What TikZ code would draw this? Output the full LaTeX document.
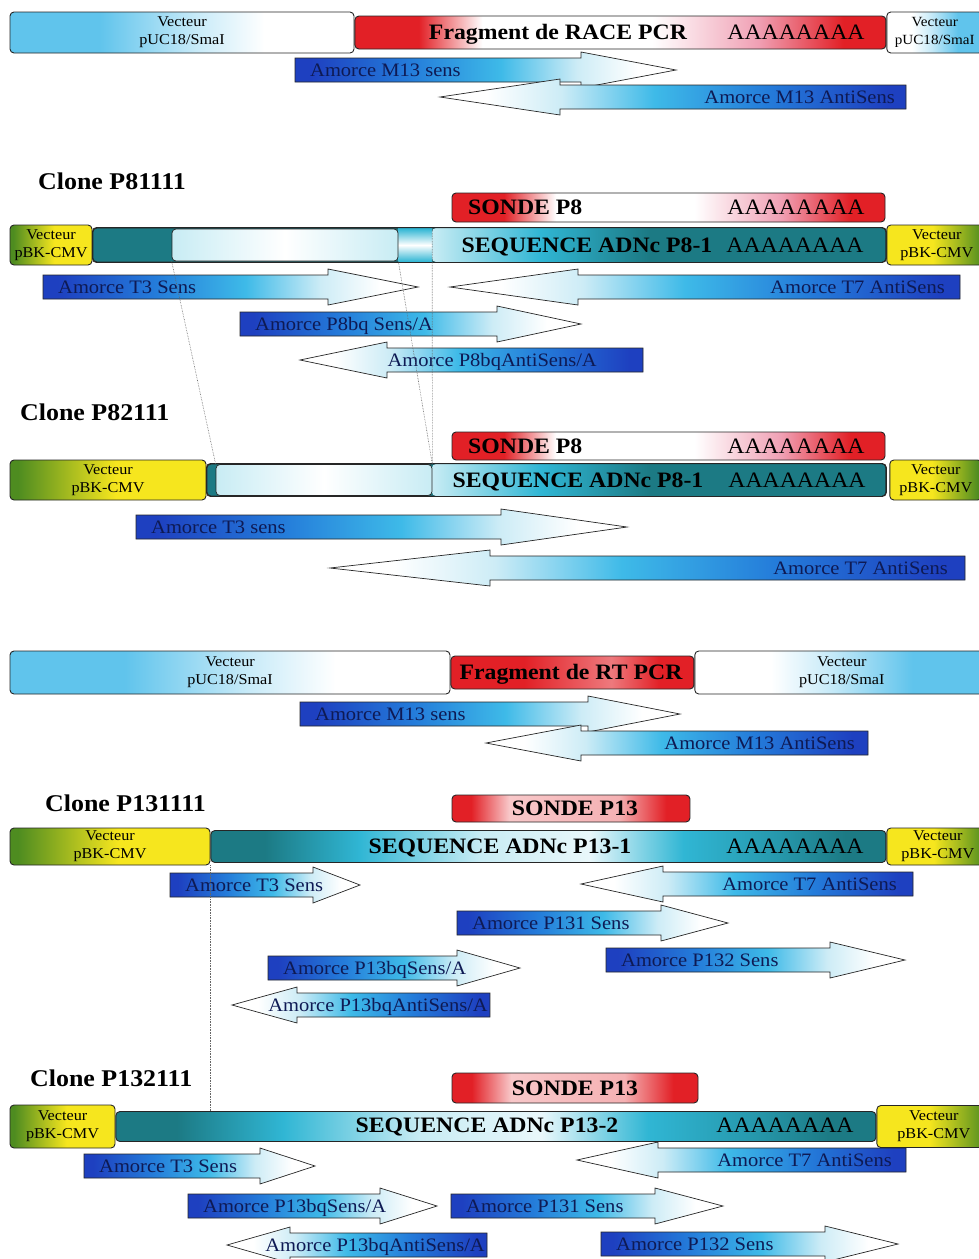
\documentclass[tikz,border=0pt]{standalone}
\usepackage{fontspec}
\setmainfont{Liberation Serif}[FakeStretch=1.08]
\usetikzlibrary{positioning}

\definecolor{skyb}{RGB}{96,196,236}
\definecolor{redf}{RGB}{226,32,38}
\definecolor{pinkf}{RGB}{240,160,180}
\definecolor{oliveg}{RGB}{78,140,32}
\definecolor{yelv}{RGB}{246,230,30}
\definecolor{tealc}{RGB}{28,122,132}
\definecolor{cyanc}{RGB}{48,182,212}
\definecolor{lcyan}{RGB}{200,236,244}
\definecolor{pdark}{RGB}{30,64,192}
\definecolor{pblue}{RGB}{36,124,218}
\definecolor{pcyan}{RGB}{62,186,232}
\definecolor{plight}{RGB}{205,236,246}
\definecolor{primink}{RGB}{14,26,84}

\pgfdeclarehorizontalshading{shPucL}{100bp}{color(0bp)=(skyb); color(25bp)=(skyb); color(38bp)=(skyb); color(52bp)=(skyb!35!white); color(62bp)=(white); color(100bp)=(white)}
\pgfdeclarehorizontalshading{shPucR}{100bp}{color(0bp)=(white); color(38bp)=(white); color(48bp)=(skyb!35!white); color(62bp)=(skyb); color(100bp)=(skyb)}
\pgfdeclarehorizontalshading{shPbkL}{100bp}{color(0bp)=(oliveg); color(27bp)=(oliveg); color(52bp)=(yelv); color(100bp)=(yelv)}
\pgfdeclarehorizontalshading{shPbkR}{100bp}{color(0bp)=(yelv); color(48bp)=(yelv); color(73bp)=(oliveg); color(100bp)=(oliveg)}
\pgfdeclarehorizontalshading{shSonde}{100bp}{color(0bp)=(redf); color(31bp)=(redf); color(37bp)=(white); color(53bp)=(white); color(63bp)=(pinkf); color(71bp)=(redf); color(100bp)=(redf)}
\pgfdeclarehorizontalshading{shSondeB}{100bp}{color(0bp)=(redf); color(29bp)=(redf); color(37bp)=(redf!25!white); color(60bp)=(redf!35!white); color(70bp)=(redf); color(100bp)=(redf)}
\pgfdeclarehorizontalshading{shRT}{100bp}{color(0bp)=(redf); color(40bp)=(redf); color(58bp)=(redf!60!white); color(68bp)=(redf); color(100bp)=(redf)}
\pgfdeclarehorizontalshading{shSeqA}{100bp}{color(0bp)=(lcyan); color(25bp)=(lcyan); color(37bp)=(cyanc); color(49bp)=(tealc); color(100bp)=(tealc)}
\pgfdeclarehorizontalshading{shSeqB}{100bp}{color(0bp)=(tealc); color(29bp)=(tealc); color(36bp)=(cyanc); color(45bp)=(lcyan); color(53bp)=(lcyan!40!white); color(60bp)=(cyanc); color(67bp)=(cyanc!50!tealc); color(72bp)=(tealc); color(100bp)=(tealc)}
\pgfdeclarehorizontalshading{shSense}{100bp}{color(0bp)=(pdark); color(27bp)=(pdark); color(40bp)=(pblue); color(52bp)=(pcyan); color(62bp)=(plight); color(70bp)=(white); color(100bp)=(white)}
\pgfdeclarehorizontalshading{shAnti}{100bp}{color(0bp)=(white); color(30bp)=(white); color(38bp)=(plight); color(48bp)=(pcyan); color(60bp)=(pblue); color(73bp)=(pdark); color(100bp)=(pdark)}

\begin{document}
\begin{tikzpicture}[x=1pt, y=-1pt, inner sep=0pt, node distance=0pt]
        \tikzstyle{bar}=[rectangle, rounded corners=4pt, draw=black!85, line width=0.9pt, inner sep=0pt]
        \tikzstyle{veclab}=[align=center, font=\fontsize{15}{18}\selectfont]
        \tikzstyle{pucl}=[bar, veclab, shade, shading=shPucL]
        \tikzstyle{pucr}=[bar, veclab, shade, shading=shPucR]
        \tikzstyle{pbkl}=[bar, veclab, shade, shading=shPbkL]
        \tikzstyle{pbkr}=[bar, veclab, shade, shading=shPbkR]
        \tikzstyle{fragbox}=[bar, shade, shading=shSonde]
        \tikzstyle{sondebox}=[bar, shade, shading=shSonde]
        \tikzstyle{sondebbox}=[bar, shade, shading=shSondeB]
        \tikzstyle{rtbox}=[bar, shade, shading=shRT]
        \tikzstyle{seqbase}=[bar, fill=tealc]
        \tikzstyle{seqmain}=[rectangle, rounded corners=4pt, shade, shading=shSeqA]
        \tikzstyle{seqfull}=[bar, shade, shading=shSeqB]
        \tikzstyle{strip}=[rectangle, top color=cyanc, bottom color=cyanc, middle color=white]
        \tikzstyle{lightbox}=[bar, line width=0.7pt, left color=lcyan, right color=lcyan, middle color=white]
        \tikzstyle{barline}=[draw=black!85, line width=0.9pt, rounded corners=4pt]
        \tikzstyle{clonelab}=[anchor=west, font=\fontsize{24}{26}\selectfont\bfseries, text height=16pt, text depth=0pt]
        \tikzstyle{seqlab}=[font=\fontsize{22}{24}\selectfont\bfseries, text height=14.5pt, text depth=0pt]
        \tikzstyle{polyA}=[font=\fontsize{22}{24}\selectfont, text height=14.5pt, text depth=0pt]
        \tikzstyle{primertext}=[text=primink, font=\fontsize{19}{21}\selectfont, text height=12.5pt, text depth=0pt]
        \tikzstyle{senseprimer}=[draw=black!85, line width=0.7pt, shading=shSense]
        \tikzstyle{antiprimer}=[draw=black!85, line width=0.7pt, shading=shAnti]
        \tikzstyle{guide}=[draw=black!60, densely dotted, line width=0.6pt]

        \path[use as bounding box, fill=white] (0,0) rectangle (978,1259);

        % RACE PCR fragment
        \node[pucl, minimum width=344pt, minimum height=41pt] (pucA) at (182,32.5) {Vecteur\\pUC18/SmaI};
        \node[fragbox, minimum width=531pt, minimum height=33pt, right=of pucA] (race) {};
        \node[pucr, minimum width=96pt, minimum height=41pt, right=of race, font=\fontsize{14}{18}\selectfont] (pucB) {Vecteur\\pUC18/SmaI};
        \node[seqlab] (raceT) at (558,32) {Fragment de RACE PCR};
        \node[polyA] (raceP) at (796,32) {AAAAAAAA};

        % Clone P81111
        \node[clonelab] (cl1) at (38,181) {Clone P81111};
        \node[sondebox, minimum width=433pt, minimum height=29pt] (sonde1) at (668.5,207.5) {};
        \node[seqlab, anchor=west] (sonde1T) at (468,207.5) {SONDE P8};
        \node[polyA] (sonde1P) at (796,207.5) {AAAAAAAA};
        \node[pbkl, minimum width=82pt, minimum height=40pt] (pbk1) at (51,245) {Vecteur\\pBK-CMV};
        \node[seqbase, minimum width=793pt, minimum height=34pt, right=of pbk1] (seq1) {};
        \node[seqmain, minimum width=453pt, minimum height=34pt] (main1) at (658.5,245) {};
        \node[strip, minimum width=34pt, minimum height=33pt] (strip1) at (415,245) {};
        \node[lightbox, minimum width=226pt, minimum height=32pt] (light1) at (285,245) {};
        \draw[barline] (seq1.north west) rectangle (seq1.south east);
        \node[seqlab] (seq1T) at (587,245) {SEQUENCE ADNc P8-1};
        \node[polyA] (seq1P) at (795,245) {AAAAAAAA};
        \node[pbkr, minimum width=100pt, minimum height=40pt, right=of seq1] (pbk2) {Vecteur\\pBK-CMV};

        % Clone P82111
        \node[clonelab] (cl2) at (20,412) {Clone P82111};
        \node[sondebox, minimum width=433pt, minimum height=28pt] (sonde2) at (668.5,446) {};
        \node[seqlab, anchor=west] (sonde2T) at (468,446) {SONDE P8};
        \node[polyA] (sonde2P) at (796,446) {AAAAAAAA};
        \node[pbkl, minimum width=196pt, minimum height=40pt] (pbk3) at (108,480) {Vecteur\\pBK-CMV};
        \node[seqbase, minimum width=679pt, minimum height=32pt, right=of pbk3] (seq2) {};
        \node[seqmain, minimum width=453pt, minimum height=32pt] (main2) at (658.5,480) {};
        \node[lightbox, minimum width=216pt, minimum height=31pt] (light2) at (324,480) {};
        \draw[barline] (seq2.north west) rectangle (seq2.south east);
        \node[seqlab] (seq2T) at (578,480) {SEQUENCE ADNc P8-1};
        \node[polyA] (seq2P) at (797,480) {AAAAAAAA};
        \node[pbkr, minimum width=92pt, minimum height=40pt, right=3pt of seq2] (pbk4) {Vecteur\\pBK-CMV};

        % RT PCR fragment
        \node[pucl, minimum width=440pt, minimum height=43pt] (pucC) at (230,672.5) {Vecteur\\pUC18/SmaI};
        \node[rtbox, minimum width=243pt, minimum height=33pt, right=of pucC] (rt) {};
        \node[pucr, minimum width=294pt, minimum height=43pt, right=of rt] (pucD) {Vecteur\\pUC18/SmaI};
        \node[seqlab] (rtT) at (571,672.5) {Fragment de RT PCR};

        % Clone P131111
        \node[clonelab] (cl3) at (45,803) {Clone P131111};
        \node[sondebbox, minimum width=238pt, minimum height=27pt] (sonde3) at (571,808.5) {};
        \node[seqlab] (sonde3T) at (575,808.5) {SONDE P13};
        \node[pbkl, minimum width=200pt, minimum height=37pt] (pbk5) at (110,846.5) {Vecteur\\pBK-CMV};
        \node[seqfull, minimum width=675pt, minimum height=32pt, right=of pbk5] (seq3) {};
        \node[seqlab] (seq3T) at (500,846.5) {SEQUENCE ADNc P13-1};
        \node[polyA] (seq3P) at (795,846.5) {AAAAAAAA};
        \node[pbkr, minimum width=102pt, minimum height=37pt, right=of seq3] (pbk6) {Vecteur\\pBK-CMV};

        % Clone P132111
        \node[clonelab] (cl4) at (30,1078) {Clone P132111};
        \node[sondebbox, minimum width=246pt, minimum height=30pt] (sonde4) at (575,1088) {};
        \node[seqlab] (sonde4T) at (575,1088) {SONDE P13};
        \node[pbkl, minimum width=105pt, minimum height=43pt] (pbk7) at (62.5,1126.5) {Vecteur\\pBK-CMV};
        \node[seqfull, minimum width=760pt, minimum height=30pt, right=of pbk7] (seq4) {};
        \node[seqlab] (seq4T) at (487,1125) {SEQUENCE ADNc P13-2};
        \node[polyA] (seq4P) at (785,1125) {AAAAAAAA};
        \node[pbkr, minimum width=114pt, minimum height=42pt, right=of seq4] (pbk8) {Vecteur\\pBK-CMV};

        % primers, sense
        \foreach \nm/\xs/\xb/\xt/\yc/\txt in {
            m13sA/295/581/676/70/{Amorce M13 sens},
            t3sA/43/328/418/287/{Amorce T3 Sens},
            p8bqsA/240/497/581/324/{Amorce P8bq Sens/A},
            t3sB/136/501/627/527/{Amorce T3 sens},
            m13sB/300/588/680/714/{Amorce M13 sens},
            t3sC/170/313/360/885/{Amorce T3 Sens},
            p131sC/457/661/728/923/{Amorce P131 Sens},
            p132sC/606/830/905/960/{Amorce P132 Sens},
            p13bqsC/268/457/520/968/{Amorce P13bqSens/A},
            t3sD/84/260/315/1166/{Amorce T3 Sens},
            p13bqsD/188/380/437/1206/{Amorce P13bqSens/A},
            p131sD/451/655/723/1206/{Amorce P131 Sens},
            p132sD/601/825/898/1244/{Amorce P132 Sens}}
        {
            \shadedraw[senseprimer] (\xs,\yc-12) -- (\xb,\yc-12) -- (\xb,\yc-18) -- (\xt,\yc)
                -- (\xb,\yc+18) -- (\xb,\yc+12) -- (\xs,\yc+12) -- cycle;
            \node[primertext, anchor=west] (\nm) at (\xs+15,\yc) {\txt};
        }

        % primers, antisense
        \foreach \nm/\xe/\xb/\xt/\yc/\tx/\txt in {
            m13aA/906/560/440/97/895/{Amorce M13 AntiSens},
            t7aA/960/578/450/287/945/{Amorce T7 AntiSens},
            p8bqaA/643/387/300/360/597/{Amorce P8bqAntiSens/A},
            t7aB/965/490/330/568/948/{Amorce T7 AntiSens},
            m13aB/868/581/486/743/855/{Amorce M13 AntiSens},
            t7aC/913/663/581/884/897/{Amorce T7 AntiSens},
            p13bqaC/490/297/232/1005/488/{Amorce P13bqAntiSens/A},
            t7aD/906/658/577/1160/892/{Amorce T7 AntiSens},
            p13bqaD/487/290/227/1245/485/{Amorce P13bqAntiSens/A}}
        {
            \shadedraw[antiprimer] (\xe,\yc-12) -- (\xb,\yc-12) -- (\xb,\yc-18) -- (\xt,\yc)
                -- (\xb,\yc+18) -- (\xb,\yc+12) -- (\xe,\yc+12) -- cycle;
            \node[primertext, anchor=east] (\nm) at (\tx,\yc) {\txt};
        }

        % correspondence lines between clones
        \draw[guide] (light1.south west) -- (light2.north west);
        \draw[guide] (light1.south east) -- (light2.north east);
        \draw[guide] (strip1.north east) -- (light2.north east);
        \draw[guide] (pbk5.south east) -- (pbk5.south east |- seq4.north);
\end{tikzpicture}
\end{document}
